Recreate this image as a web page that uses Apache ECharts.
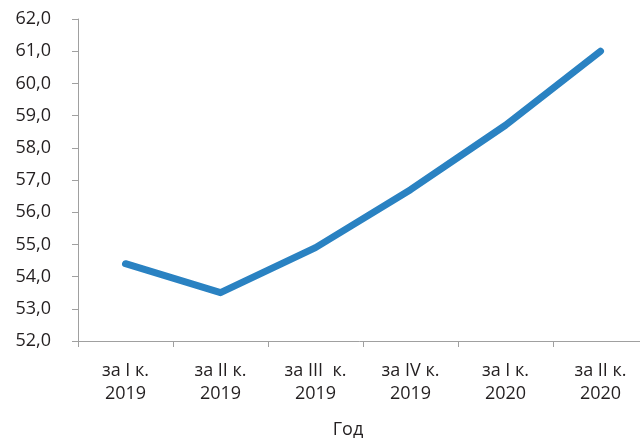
<!DOCTYPE html>
<html>
<head>
<meta charset="utf-8">
<script src="https://cdn.jsdelivr.net/npm/echarts@6/dist/echarts.min.js"></script>
<style>
html,body{margin:0;padding:0;background:#fff;overflow:hidden;}
#chart{width:640px;height:438px;}
</style>
</head>
<body>
<div id="chart"></div>
<script>
const categories = ["за I к.\n2019", "за II к.\n2019", "за III  к.\n2019", "за IV к.\n2019", "за I к.\n2020", "за II к.\n2020"];
const values = [54.4, 53.5, 54.9, 56.7, 58.7, 61.0];
const yMin = 52, yMax = 62, yStep = 1;
const xAxisName = "Год";

const chart = echarts.init(document.getElementById('chart'), null, {renderer: 'canvas'});
const font = "'Open Sans', 'Noto Sans', sans-serif";
chart.setOption({
  animation: false,
  backgroundColor: '#ffffff',
  grid: {left: 78, right: -8, top: 19, bottom: 97, containLabel: false, outerBoundsMode: 'none'},
  xAxis: {
    type: 'category',
    data: categories,
    boundaryGap: true,
    name: xAxisName,
    nameLocation: 'middle',
    nameGap: 80,
    nameTextStyle: {color: '#231f20', fontSize: 18, fontFamily: font, padding: [0, 30, 0, 0]},
    axisLine: {show: true, lineStyle: {color: '#a0a0a0', width: 1}},
    axisTick: {show: true, length: 6, alignWithLabel: false, lineStyle: {color: '#a0a0a0'}},
    axisLabel: {color: '#231f20', fontSize: 18, fontFamily: font, lineHeight: 23, margin: 18, interval: 0},
    splitLine: {show: false}
  },
  yAxis: {
    type: 'value',
    min: yMin, max: yMax, interval: yStep,
    axisLine: {show: true, lineStyle: {color: '#a0a0a0', width: 1}},
    axisTick: {show: true, length: 6, lineStyle: {color: '#a0a0a0'}},
    axisLabel: {color: '#231f20', fontSize: 18, fontFamily: font, margin: 27,
      formatter: v => v.toFixed(1).replace('.', ',')},
    splitLine: {show: false}
  },
  series: [{
    type: 'line',
    data: values,
    symbol: 'none',
    smooth: false,
    lineStyle: {color: '#2a82c2', width: 7, cap: 'round', join: 'round'}
  }]
});
</script>
</body>
</html>
